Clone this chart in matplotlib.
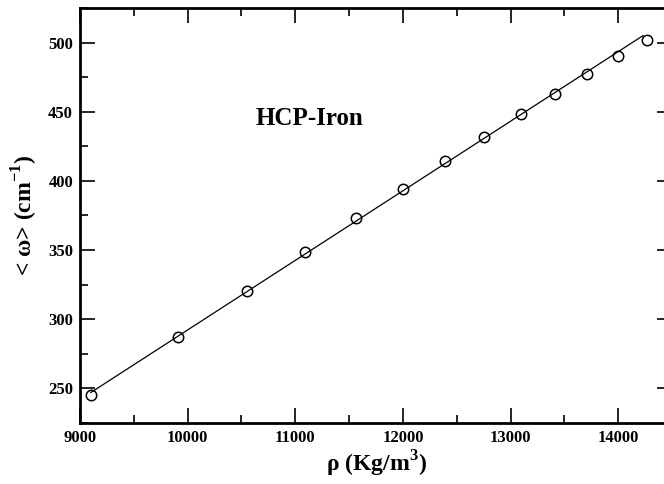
import numpy as np
import matplotlib
matplotlib.use('Agg')
import matplotlib.pyplot as plt
from matplotlib.ticker import MultipleLocator

# density (kg/m^3) and mean phonon frequency (cm^-1)
rho = [9100, 9910, 10550, 11090, 11565, 12000, 12390, 12750, 13095, 13410, 13710, 13995, 14265]
omega = [245, 287, 320.5, 348.5, 373, 394.5, 414.5, 432, 448.5, 463, 477, 490, 502]

# fitted straight line (end points)
fit_rho = [9100, 14230]
fit_omega = [247, 505]

plt.rcParams['font.family'] = ['Liberation Serif', 'DejaVu Serif']
plt.rcParams['mathtext.fontset'] = 'custom'
plt.rcParams['mathtext.rm'] = 'Liberation Serif:bold'
plt.rcParams['mathtext.bf'] = 'Liberation Serif:bold'

fig = plt.figure(figsize=(6.64, 4.84), dpi=100)
# right spine sits just past the image edge, as in the reference
ax = fig.add_axes([80 / 664, 1 - 423 / 484, 592 / 664, 415 / 484])

ax.plot(fit_rho, fit_omega, 'k-', lw=0.9)
ax.plot(rho, omega, 'o', mfc='none', mec='k', ms=7.5, mew=1.1)

ax.set_xlim(9000, 14500)
ax.set_ylim(225, 525)
ax.xaxis.set_major_locator(MultipleLocator(1000))
ax.xaxis.set_minor_locator(MultipleLocator(500))
ax.yaxis.set_major_locator(MultipleLocator(50))
ax.yaxis.set_minor_locator(MultipleLocator(25))
ax.tick_params(which='both', direction='in', top=True, right=True, width=1.2)
ax.tick_params(which='major', length=11, labelsize=12, pad=5)
ax.tick_params(which='minor', length=6)
for lab in ax.get_xticklabels() + ax.get_yticklabels():
    lab.set_fontweight('bold')
for s in ax.spines.values():
    s.set_linewidth(2)

ax.set_xlabel(r'ρ (Kg/m$^{\mathbf{3}}$)', fontsize=17, fontweight='bold', labelpad=2)
ax.set_ylabel(r'< ω> (cm$^{\mathbf{-1}}$)', fontsize=17, fontweight='bold', labelpad=6)
ax.text(11135, 445, 'HCP-Iron', fontsize=18, fontweight='bold', ha='center', va='center')

fig.savefig('out.png', dpi=100)
